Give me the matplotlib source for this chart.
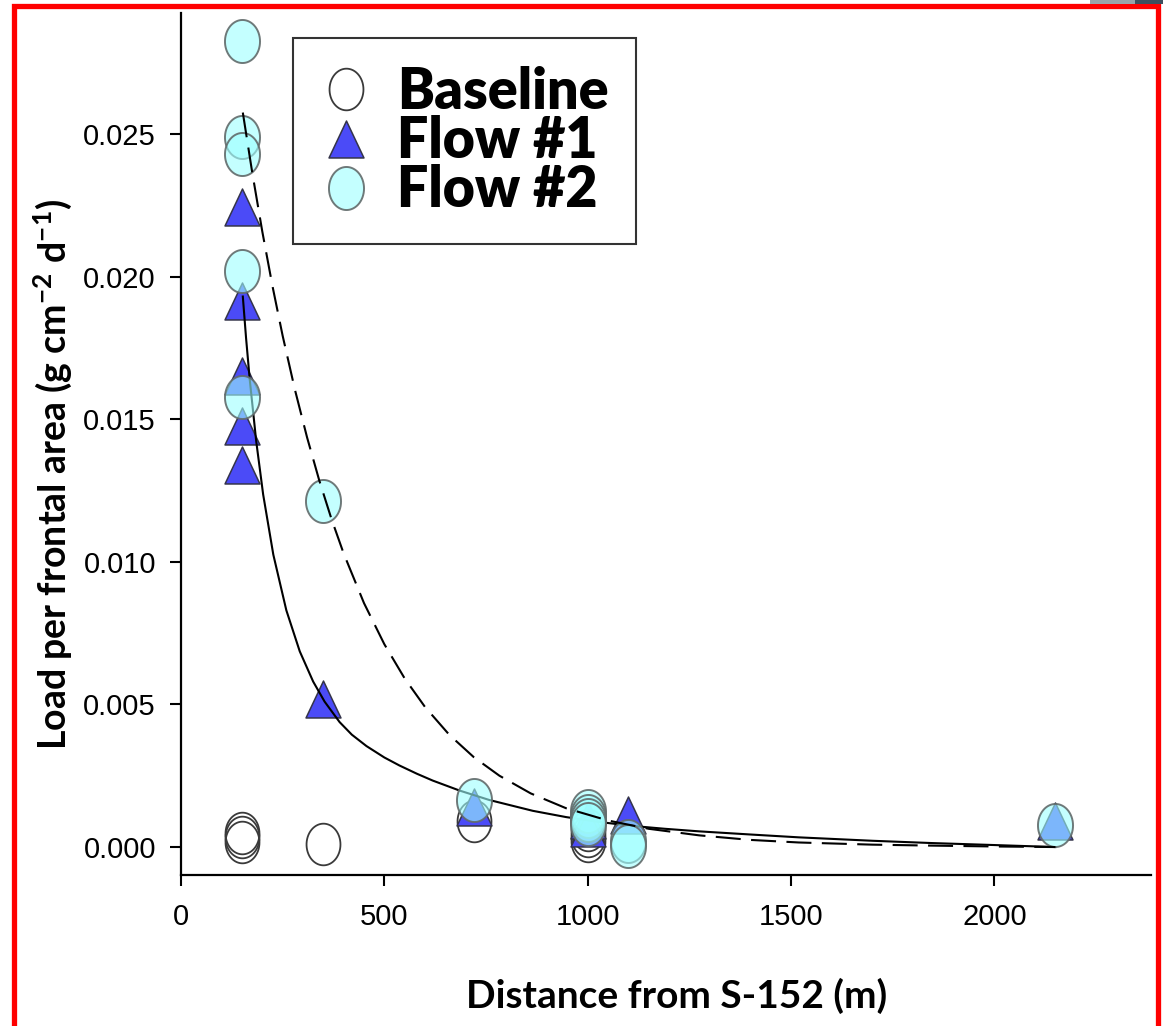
import matplotlib
matplotlib.use("Agg")
import matplotlib.pyplot as plt
import numpy as np
from matplotlib.path import Path
from matplotlib.lines import Line2D
from matplotlib.patches import Rectangle

# --- data ------------------------------------------------------------------
base_x = [150, 150, 150, 350, 720, 1000, 1000, 1000]
base_y = [0.00049, 0.00035, 0.00018, 0.00010, 0.00091, 0.00060, 0.00040, 0.00020]

flow1_x = [150, 150, 150, 150, 150, 350, 720, 1000, 1000, 1100, 2150]
flow1_y = [0.02244, 0.01914, 0.01653, 0.01476, 0.01340, 0.00519, 0.00140,
           0.00095, 0.00068, 0.00114, 0.00091]

flow2_x = [150, 150, 150, 150, 150, 350, 720, 1000, 1000, 1000, 1000, 1100, 1100, 2150]
flow2_y = [0.02827, 0.02489, 0.02431, 0.02020, 0.01578, 0.01213, 0.00165,
           0.00126, 0.00110, 0.00095, 0.00080, 0.00020, 0.00002, 0.00079]

# fitted curves
fit1_x = [152, 160, 169, 185, 202, 227, 259, 292, 325, 353, 390, 420, 456, 500, 537, 580,
          619, 685, 758, 865, 947, 1028, 1110, 1190, 1274, 1400, 1519, 1700, 1846, 2000, 2150]
fit1_y = [0.0193, 0.01784, 0.01639, 0.01422, 0.01236, 0.01025, 0.00830, 0.00686, 0.00580,
          0.00510, 0.00438, 0.00394, 0.00354, 0.00314, 0.00286, 0.00257, 0.00233, 0.00198,
          0.00165, 0.00127, 0.00105, 0.00088, 0.00074, 0.00064, 0.00055, 0.00044, 0.00034,
          0.00022, 0.00014, 0.00007, 0.0]

fit2_x = [152, 175, 200, 225, 250, 280, 310, 340, 370, 400, 450, 500, 550, 600, 660, 720,
          783, 860, 947, 1050, 1150, 1274, 1400, 1519, 1700, 1846, 2000, 2150]
fit2_y = [0.02575, 0.02366, 0.02157, 0.01966, 0.01792, 0.01604, 0.01436, 0.01285, 0.01150,
          0.01029, 0.00855, 0.00711, 0.00591, 0.00491, 0.00393, 0.00315, 0.00250, 0.00188,
          0.00136, 0.00093, 0.00064, 0.00041, 0.00025, 0.00016, 0.000084, 0.00005, 0.00002, 0.0]

labels = ["Baseline", "Flow #1", "Flow #2"]
x_ticks = [0, 500, 1000, 1500, 2000]
y_ticks = [0.000, 0.005, 0.010, 0.015, 0.020, 0.025]

# --- fonts -----------------------------------------------------------------
tick_font = "Liberation Sans"
plt.rcParams["mathtext.fontset"] = "custom"
plt.rcParams["mathtext.rm"] = "Lato:bold"
plt.rcParams["mathtext.it"] = "Lato:bold"
plt.rcParams["mathtext.bf"] = "Lato:bold"

# slightly tall ellipse / triangle markers (the original is stretched vertically)
t = np.linspace(0, 2 * np.pi, 60)
ellipse = Path(np.column_stack([0.814 * np.cos(t), np.sin(t)]), closed=True)
triangle = Path([(0, 1), (-0.946, -1), (0.946, -1), (0, 1)], closed=True)

fig = plt.figure(figsize=(11.63, 10.26), dpi=100)
ax = fig.add_axes([181 / 1163, 151 / 1026, 970 / 1163, 862 / 1026])

base_style = dict(marker=ellipse, markersize=30, markerfacecolor="none",
                  markeredgecolor="#3a3a3a", markeredgewidth=1.3, linestyle="none")
flow1_style = dict(marker=triangle, markersize=26.6, markerfacecolor="#4b4bf7",
                   markeredgecolor="#34344a", markeredgewidth=1.1, linestyle="none")
flow2_style = dict(marker=ellipse, markersize=31, markerfacecolor=(0.62, 1.0, 1.0, 0.6),
                   markeredgecolor=(0.38, 0.42, 0.42, 0.9), markeredgewidth=1.4, linestyle="none")

ax.plot(base_x, base_y, zorder=2, **base_style)
ax.plot(flow1_x, flow1_y, zorder=3, **flow1_style)
ax.plot(fit1_x, fit1_y, color="black", lw=1.5, zorder=3.5)
ax.plot(flow2_x, flow2_y, zorder=4, **flow2_style)
ax.plot(fit2_x, fit2_y, color="black", lw=1.5, dashes=(12, 5), zorder=5)

ax.set_xlim(0, 2385)
ax.set_ylim(-0.00098, 0.02924)
ax.set_xticks(x_ticks)
ax.set_yticks(y_ticks)
ax.set_yticklabels([f"{v:.3f}" for v in y_ticks])
for s in ["top", "right"]:
    ax.spines[s].set_visible(False)
for s in ["left", "bottom"]:
    ax.spines[s].set_linewidth(1.6)
ax.tick_params(direction="out", length=8, width=1.5, labelsize=21)
ax.tick_params(axis="x", pad=12)
ax.tick_params(axis="y", pad=10)
for lab in ax.get_xticklabels() + ax.get_yticklabels():
    lab.set_fontfamily(tick_font)

ax.set_xlabel("Distance from S-152 (m)", fontfamily="Lato", fontweight="bold",
              fontsize=28, va="center", ha="center")
ax.xaxis.set_label_coords(0.511, -0.140)
ax.set_ylabel("Load per frontal area (g cm$^{-2}$ d$^{-1}$)", fontfamily="Lato",
              fontweight="bold", fontsize=27, va="center", ha="center")
ax.yaxis.set_label_coords(-0.132, 0.465)

handles = [Line2D([], [], **base_style), Line2D([], [], **flow1_style),
           Line2D([], [], **flow2_style)]
leg = ax.legend(handles, labels, loc="upper left",
                bbox_to_anchor=(293 / 1163, 1 - 38 / 1026), bbox_transform=fig.transFigure,
                prop={"family": "Lato", "weight": "heavy", "size": 40},
                frameon=True, fancybox=False, borderaxespad=0, borderpad=0.5,
                handlelength=0.9, handletextpad=0.47, labelspacing=-0.05)
leg.get_frame().set_edgecolor("black")
leg.get_frame().set_linewidth(1.5)
leg.set_zorder(10)

# red frame around the picture
fig.add_artist(Rectangle((14 / 1163, -0.05), (1158 - 14) / 1163, 1.05 - 6.5 / 1026,
                         transform=fig.transFigure, fill=False, edgecolor="#ff0000",
                         linewidth=3.8, clip_on=False))
fig.add_artist(Rectangle((1090 / 1163, 1 - 4 / 1026), 45 / 1163, 4 / 1026,
                         transform=fig.transFigure, color="#9aa3aa", lw=0))
fig.add_artist(Rectangle((1135 / 1163, 1 - 4 / 1026), 28 / 1163, 4 / 1026,
                         transform=fig.transFigure, color="#3d4f5e", lw=0))

fig.savefig("out.png", dpi=100)
